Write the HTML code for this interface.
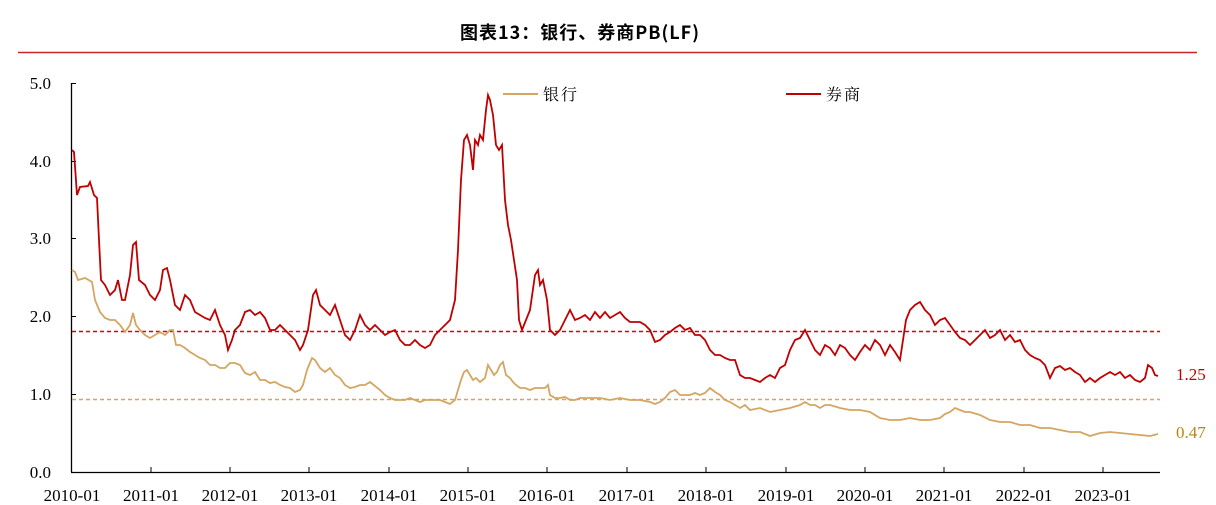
<!DOCTYPE html>
<html><head><meta charset="utf-8"><style>
body{margin:0;background:#fff;width:1216px;height:505px;overflow:hidden}
svg{display:block}
.t{font-family:"Liberation Serif","Noto Serif CJK SC",serif;font-size:17px;fill:#000}
</style></head><body>
<svg width="1216" height="505" viewBox="0 0 1216 505">
<text x="580" y="39" text-anchor="middle" font-family="'Noto Sans CJK SC','WenQuanYi Zen Hei',sans-serif" font-weight="bold" font-size="18" letter-spacing="1">图表13：银行、券商PB(LF)</text>
<line x1="18" y1="52.5" x2="1197" y2="52.5" stroke="#c8262c" stroke-width="1.5"/>
<line x1="71.5" y1="83" x2="71.5" y2="472" stroke="#000" stroke-width="1.3"/>
<line x1="71" y1="472.5" x2="1160" y2="472.5" stroke="#000" stroke-width="1.3"/>
<g stroke="#000" stroke-width="1">
<line x1="71" y1="83.5" x2="76" y2="83.5"/><line x1="71" y1="161.5" x2="76" y2="161.5"/><line x1="71" y1="238.5" x2="76" y2="238.5"/><line x1="71" y1="316.5" x2="76" y2="316.5"/><line x1="71" y1="394.5" x2="76" y2="394.5"/>
<line x1="151" y1="467" x2="151" y2="472"/><line x1="230" y1="467" x2="230" y2="472"/><line x1="309" y1="467" x2="309" y2="472"/><line x1="389" y1="467" x2="389" y2="472"/><line x1="468" y1="467" x2="468" y2="472"/><line x1="547" y1="467" x2="547" y2="472"/><line x1="627" y1="467" x2="627" y2="472"/><line x1="706" y1="467" x2="706" y2="472"/><line x1="786" y1="467" x2="786" y2="472"/><line x1="865" y1="467" x2="865" y2="472"/><line x1="944" y1="467" x2="944" y2="472"/><line x1="1024" y1="467" x2="1024" y2="472"/><line x1="1103" y1="467" x2="1103" y2="472"/>
</g>
<g class="t" text-anchor="end">
<text x="51" y="89">5.0</text><text x="51" y="167">4.0</text><text x="51" y="244">3.0</text><text x="51" y="322">2.0</text><text x="51" y="400">1.0</text><text x="51" y="478">0.0</text>
</g>
<g class="t" text-anchor="middle">
<text x="72" y="501">2010-01</text><text x="151" y="501">2011-01</text><text x="230" y="501">2012-01</text><text x="309" y="501">2013-01</text><text x="389" y="501">2014-01</text><text x="468" y="501">2015-01</text><text x="547" y="501">2016-01</text><text x="627" y="501">2017-01</text><text x="706" y="501">2018-01</text><text x="786" y="501">2019-01</text><text x="865" y="501">2020-01</text><text x="944" y="501">2021-01</text><text x="1024" y="501">2022-01</text><text x="1103" y="501">2023-01</text>
</g>
<line x1="72" y1="331.5" x2="1160" y2="331.5" stroke="#e00000" stroke-width="1.5" stroke-dasharray="4,3"/>
<line x1="72" y1="399.5" x2="1160" y2="399.5" stroke="#d4a662" stroke-width="1.5" stroke-dasharray="4,3"/>
<polyline fill="none" stroke="#d4a662" stroke-width="1.8" points="72,270 75,272 78,280 85,278 92,282 95,300 100,312 105,318 110,320 115,320 120,325 125,332 130,325 133,313 136,325 140,330 145,335 150,338 155,335 160,332 165,335 170,330 173,330 176,345 180,345 185,348 190,352 195,355 200,358 205,360 210,365 215,365 220,368 225,368 230,363 235,363 240,365 245,373 250,375 255,372 260,380 265,380 270,383 275,382 280,385 285,387 290,388 295,392 300,390 303,385 307,370 312,358 315,360 320,368 325,372 330,368 335,375 340,378 345,385 350,388 355,387 360,385 365,385 370,382 375,386 380,390 385,395 390,398 395,400 400,400 405,400 410,398 415,400 420,402 425,400 430,400 435,400 440,400 445,402 450,404 455,400 458,390 461,380 464,372 467,370 470,375 473,380 476,378 480,382 485,378 488,365 491,370 494,375 497,372 500,365 503,362 506,375 510,378 513,382 516,385 520,388 525,388 530,390 535,388 540,388 545,388 548,385 550,395 555,398 560,398 565,397 570,400 575,400 580,398 590,398 600,398 610,400 620,398 630,400 640,400 650,402 655,404 660,402 665,398 670,392 675,390 680,395 690,395 695,393 700,395 705,393 710,388 715,392 720,395 725,400 730,402 735,405 740,408 745,405 750,410 760,408 770,412 780,410 790,408 800,405 805,402 810,405 815,405 820,408 825,405 830,405 840,408 850,410 860,410 870,412 880,418 890,420 900,420 910,418 920,420 930,420 940,418 945,414 950,412 955,408 960,410 965,412 970,412 980,415 990,420 1000,422 1010,422 1020,425 1030,425 1040,428 1050,428 1060,430 1070,432 1080,432 1090,436 1100,433 1110,432 1120,433 1130,434 1140,435 1150,436 1158,434"/>
<polyline fill="none" stroke="#c00000" stroke-width="1.8" points="72,150 74,152 77,195 80,187 88,186 90,182 94,195 97,198 99,240 101,280 105,285 110,295 115,290 118,280 122,300 125,300 130,275 133,245 136,242 139,280 145,285 150,295 155,300 160,290 163,270 167,268 170,280 175,305 180,310 185,295 190,300 195,312 200,315 205,318 210,320 215,310 220,325 225,335 228,350 232,340 235,330 240,325 245,312 250,310 255,315 260,312 265,318 270,330 275,330 280,325 285,330 290,335 295,340 300,350 303,345 308,330 313,295 316,290 320,305 325,310 330,315 335,305 340,320 345,335 350,340 355,330 360,315 365,325 370,330 375,325 380,330 385,335 390,332 395,330 400,340 405,345 410,345 415,340 420,345 425,348 430,345 435,335 440,330 445,325 450,320 455,300 458,250 461,180 464,140 467,135 470,145 473,170 475,140 478,145 480,135 483,140 486,110 488,95 490,100 493,115 496,145 499,150 502,145 505,200 508,225 511,240 514,260 517,280 519,320 522,330 526,320 530,310 535,275 538,270 540,285 543,280 547,300 550,330 555,335 560,330 565,320 570,310 575,320 580,318 585,315 590,320 595,312 600,318 605,312 610,318 615,315 620,312 625,318 630,322 640,322 645,325 650,330 655,342 660,340 665,335 670,332 675,328 680,325 685,330 690,328 695,335 700,335 705,340 710,350 715,355 720,355 725,358 730,360 735,360 740,375 745,378 750,378 755,380 760,382 765,378 770,375 775,378 780,368 785,365 790,350 795,340 800,338 805,330 810,340 815,350 820,355 825,345 830,348 835,355 840,345 845,348 850,355 855,360 860,352 865,345 870,350 875,340 880,345 885,355 890,345 895,352 900,360 903,340 906,320 910,310 915,305 920,302 925,310 930,315 935,325 940,320 945,318 950,325 955,332 960,338 965,340 970,345 975,340 980,335 985,330 990,338 995,335 1000,330 1005,340 1010,335 1015,342 1020,340 1025,350 1030,355 1035,358 1040,360 1045,365 1050,378 1055,368 1060,366 1065,370 1070,368 1075,372 1080,375 1085,382 1090,378 1095,382 1100,378 1105,375 1110,372 1115,375 1120,372 1125,378 1130,375 1135,380 1140,382 1145,378 1148,365 1152,368 1155,375 1158,376"/>
<line x1="503" y1="94" x2="538" y2="94" stroke="#d4a662" stroke-width="2"/>
<text x="543" y="100" font-family="'Noto Serif CJK SC',serif" font-size="16" letter-spacing="2">银行</text>
<line x1="786" y1="94" x2="821" y2="94" stroke="#c00000" stroke-width="2"/>
<text x="826" y="100" font-family="'Noto Serif CJK SC',serif" font-size="16" letter-spacing="2">券商</text>
<text x="1176" y="380" class="t" style="fill:#c00000">1.25</text>
<text x="1176" y="438" class="t" style="fill:#b8860b">0.47</text>
</svg>
</body></html>
